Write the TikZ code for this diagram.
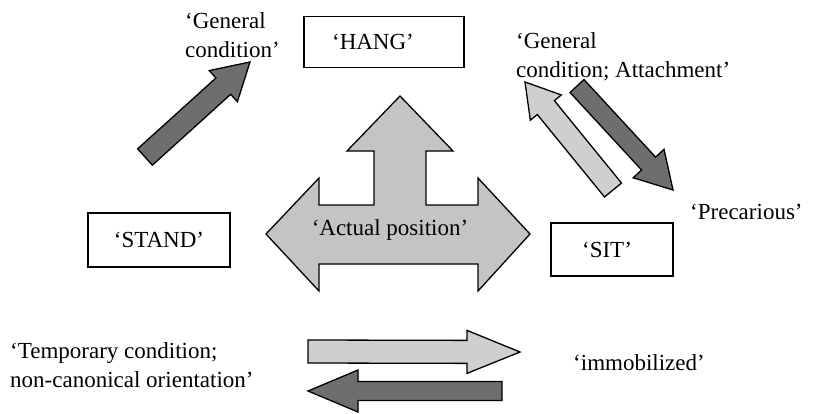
\documentclass[tikz,border=0pt]{standalone}
\usepackage{fontspec}
\setmainfont{Liberation Serif}
\usetikzlibrary{calc}
\definecolor{lightfill}{HTML}{CFCFCF}
\definecolor{midfill}{HTML}{C4C4C4}
\definecolor{darkfill}{HTML}{6E6E6E}
% block arrow: #1 tail, #2 tip, #3 shaft half width, #4 head half width, #5 head length, #6 style
\newcommand{\blockarr}[6]{%
  \coordinate (#2-hb) at ($(#2)!#5!(#1)$);
  \draw[#6] ($(#1)!#3!90:(#2)$) -- ($(#2-hb)!#3!-90:(#1)$) -- ($(#2-hb)!#4!-90:(#1)$)
    -- (#2) -- ($(#2-hb)!#4!90:(#1)$) -- ($(#2-hb)!#3!90:(#1)$) -- ($(#1)!#3!-90:(#2)$) -- cycle;
}
\begin{document}
\begin{tikzpicture}[x=1pt,y=-1pt,
  lbl/.style={font=\fontsize{23}{29}\selectfont, inner sep=0pt, align=left},
  wbox/.style={draw, line width=1.1pt, fill=white, font=\fontsize{23}{29}\selectfont, inner sep=0pt},
  lightarr/.style={draw, line width=1.3pt, line join=miter, fill=lightfill},
  darkarr/.style={draw, line width=1.3pt, line join=miter, fill=darkfill},
  bigarr/.style={draw, line width=1.3pt, line join=miter, fill=midfill}]
\useasboundingbox (0,0) rectangle (817,413);

% boxes
\node[wbox, minimum width=160pt, minimum height=51pt] (hang) at (384,42) {‘HANG’\hspace*{22pt}};
\node[wbox, minimum width=142pt, minimum height=54pt] (stand) at (159,240) {‘STAND’};
\node[wbox, minimum width=122pt, minimum height=53pt] (sit) at (612,249.5) {‘SIT’\hspace*{10pt}};

% central three-way arrow
\draw[bigarr] (400,96) -- (453,151) -- (426,151) -- (426,205) -- (478,205) -- (478,178)
  -- (530,234) -- (478,291) -- (478,264) -- (319,264) -- (319,291) -- (266,234)
  -- (319,178) -- (319,205) -- (374,205) -- (374,151) -- (347,151) -- cycle;
\node[lbl, anchor=base] (actual) at (390,235) {‘Actual position’};

% labels (base anchor = baseline of the last line)
\node[lbl, anchor=base west] (gencond) at (185,57) {‘General\\condition’};
\node[lbl, anchor=base west] (genatt) at (516,77) {‘General\\condition; Attachment’};
\node[lbl, anchor=base west] (prec) at (690,219) {‘Precarious’};
\node[lbl, anchor=base west] (immob) at (573,370) {‘immobilized’};
\node[lbl, anchor=base west] (temp) at (10,387) {‘Temporary condition;\\non-canonical orientation’};

% arrows
\coordinate (a1t) at (145,157); \coordinate (a1h) at (250,62);
\blockarr{a1t}{a1h}{11pt}{21pt}{36pt}{darkarr}
\coordinate (a2t) at (613,190); \coordinate (a2h) at (525,82);
\blockarr{a2t}{a2h}{11pt}{20pt}{33pt}{lightarr}
\coordinate (a3t) at (577,86); \coordinate (a3h) at (673,190);
\blockarr{a3t}{a3h}{9.5pt}{21pt}{36pt}{darkarr}
\coordinate (a4t) at (308,351.5); \coordinate (a4h) at (520,352);
\blockarr{a4t}{a4h}{11.5pt}{21.5pt}{53pt}{lightarr}
\coordinate (a5t) at (502,391); \coordinate (a5h) at (308,391);
\blockarr{a5t}{a5h}{9.5pt}{21pt}{50pt}{darkarr}
\end{tikzpicture}
\end{document}
